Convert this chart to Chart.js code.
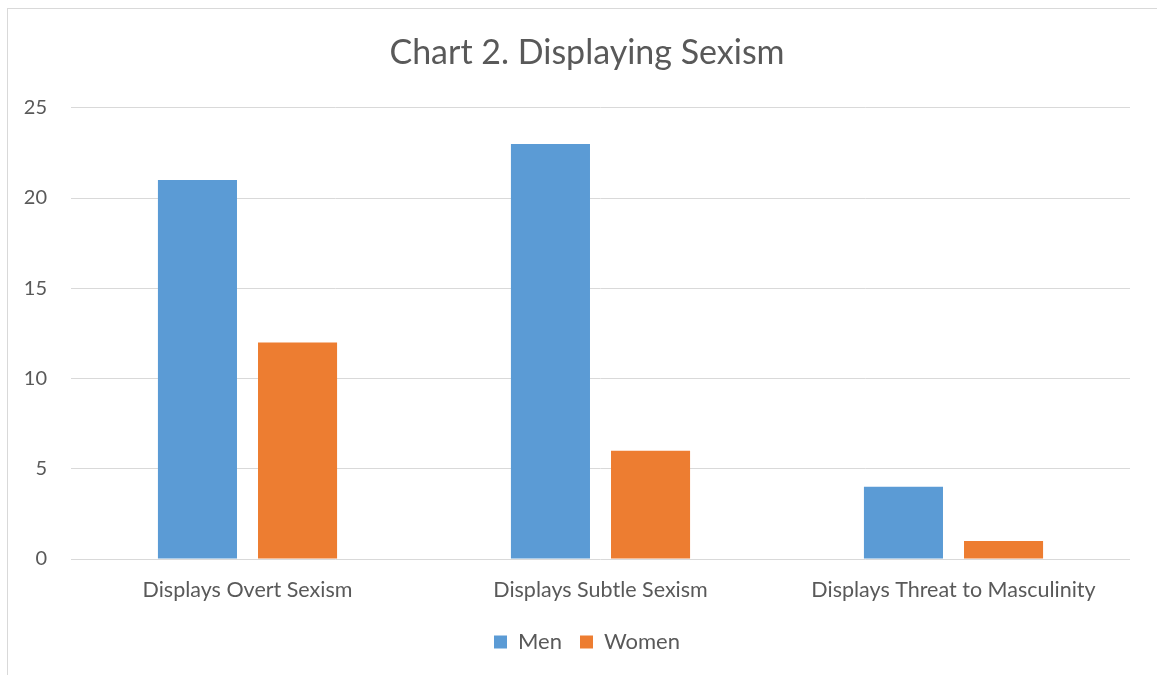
<!DOCTYPE html>
<html>
<head>
<meta charset="utf-8">
<script src="https://cdn.jsdelivr.net/npm/chart.js@4/dist/chart.umd.min.js"></script>
<style>
  html, body { margin: 0; padding: 0; background: #fff; overflow: hidden; }
  #frame { position: absolute; left: 7px; top: 8px; width: 1160px; height: 680px; border: 1px solid #d9d9d9; box-sizing: border-box; }
  #wrap { position: absolute; left: 0; top: 0; width: 1157px; height: 675px; }
</style>
</head>
<body>
<div id="frame"></div>
<div id="wrap"><canvas id="grafico"></canvas></div>
<script>
// dados
const categorias = ["Displays Overt Sexism", "Displays Subtle Sexism", "Displays Threat to Masculinity"];
const homens = [21, 23, 4];
const mulheres = [12, 6, 1];
const ticksY = [0, 5, 10, 15, 20, 25];

const cinza = "#595959";
const fonte = "Lato, 'Open Sans', sans-serif";

function criarGrafico() {
  const ctx = document.getElementById("grafico").getContext("2d");

  new Chart(ctx, {
    type: "bar",
    data: {
      labels: categorias,
      datasets: [
        { label: "Men", data: homens, backgroundColor: "#5B9BD5", categoryPercentage: 0.567, barPercentage: 0.79 },
        { label: "Women", data: mulheres, backgroundColor: "#ED7D31", categoryPercentage: 0.567, barPercentage: 0.79 }
      ]
    },
    options: {
      responsive: true,
      maintainAspectRatio: false,
      animation: false,
      layout: { padding: { left: 17, right: 0, top: 0, bottom: 12 } },
      plugins: {
        title: {
          display: true,
          text: "Chart 2. Displaying Sexism",
          color: cinza,
          font: { family: fonte, size: 34, weight: "normal" },
          padding: { top: 33, bottom: 34 }
        },
        legend: {
          position: "bottom",
          labels: {
            color: cinza,
            font: { family: fonte, size: 22 },
            boxWidth: 13,
            boxHeight: 13,
            padding: 18
          }
        },
        tooltip: { enabled: false }
      },
      scales: {
        x: {
          grid: { display: false, drawTicks: false },
          border: { display: false },
          ticks: { color: cinza, font: { family: fonte, size: 21.5 }, padding: 18 },
          afterFit: s => { s.height = 54; }
        },
        y: {
          min: 0,
          max: 25,
          afterBuildTicks: s => { s.ticks = ticksY.map(v => ({ value: v })); },
          grid: { color: "#d9d9d9", lineWidth: 1, drawTicks: false },
          border: { display: false },
          ticks: { color: cinza, font: { family: fonte, size: 20 }, padding: 24 },
          afterFit: s => { s.width = 54; }
        },
        // eixo vazio só para reservar a margem direita
        espaco: {
          position: "right",
          grid: { display: false },
          border: { display: false },
          ticks: { display: false },
          afterFit: s => { s.width = 27; }
        }
      }
    }
  });
}

document.addEventListener("DOMContentLoaded", criarGrafico);
</script>
</body>
</html>
